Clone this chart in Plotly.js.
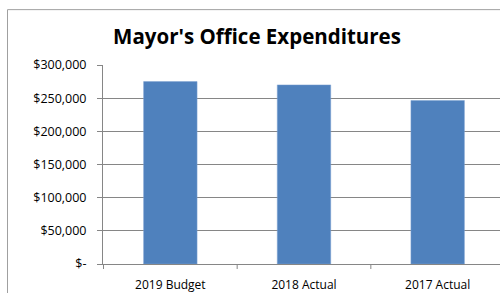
<!DOCTYPE html>
<html>
<head>
<meta charset="utf-8">
<script src="https://cdn.plot.ly/plotly-3.0.1.min.js"></script>
<style>
html,body{margin:0;padding:0;overflow:hidden;background:#fff;width:500px;height:293px;}
#chart{width:520px;height:293px;}
</style>
</head>
<body>
<div id="chart"></div>
<script>
var categories = ["2019 Budget", "2018 Actual", "2017 Actual"];
var expenditures = [275000, 270000, 246500];
var yTickValues = [0, 50000, 100000, 150000, 200000, 250000, 300000];
var yTickLabels = ["$-", "$50,000", "$100,000", "$150,000", "$200,000", "$250,000", "$300,000"];

var font = "Open Sans, Noto Sans, sans-serif";

var trace = {
  type: "bar",
  x: categories,
  y: expenditures,
  marker: {color: "#4F81BD", line: {color: "#7FA3D3", width: 0.5}},
  hoverinfo: "x+y"
};

var layout = {
  width: 520,
  height: 293,
  margin: {l: 103, r: 15, t: 64.5, b: 29, pad: 0},
  paper_bgcolor: "#ffffff",
  plot_bgcolor: "#ffffff",
  bargap: 0.6,
  showlegend: false,
  title: {
    text: "<b>Mayor's Office Expenditures</b>",
    font: {family: font, size: 20.5, color: "#000000"},
    xref: "container", x: 257/520, xanchor: "center",
    yref: "container", y: 1 - 37/293, yanchor: "middle"
  },
  xaxis: {
    type: "category",
    showline: true, linecolor: "#868686", linewidth: 1,
    ticks: "", showgrid: false,
    ticklabelstandoff: 10,
    tickfont: {family: font, size: 12, color: "#000000"},
    fixedrange: true
  },
  yaxis: {
    range: [0, 300000],
    tickvals: yTickValues,
    ticktext: yTickLabels,
    ticks: "outside", ticklen: 5, tickcolor: "#868686", tickwidth: 1,
    ticklabelstandoff: 8,
    showline: true, linecolor: "#868686", linewidth: 1,
    showgrid: true, gridcolor: "#868686", gridwidth: 1,
    zeroline: false,
    tickfont: {family: font, size: 12.5, color: "#000000"},
    fixedrange: true
  },
  shapes: [
    {type: "rect", xref: "paper", yref: "paper",
     x0: (7.5-103)/402, x1: 1.2, y0: -0.3, y1: (264-9)/199.5,
     line: {color: "#A0A0A0", width: 1}, fillcolor: "rgba(0,0,0,0)", layer: "below"}
  ]
};

// category separator ticks on the x axis
var sepShapes = [];
for (var i = 0; i <= categories.length; i++) {
  sepShapes.push({type: "line", xref: "x", yref: "paper",
    x0: i - 0.5, x1: i - 0.5, y0: 0, y1: -5/199.5,
    line: {color: "#868686", width: 1}});
}
layout.shapes = layout.shapes.concat(sepShapes);

Plotly.newPlot("chart", [trace], layout, {displayModeBar: false, staticPlot: true});
</script>
</body>
</html>
